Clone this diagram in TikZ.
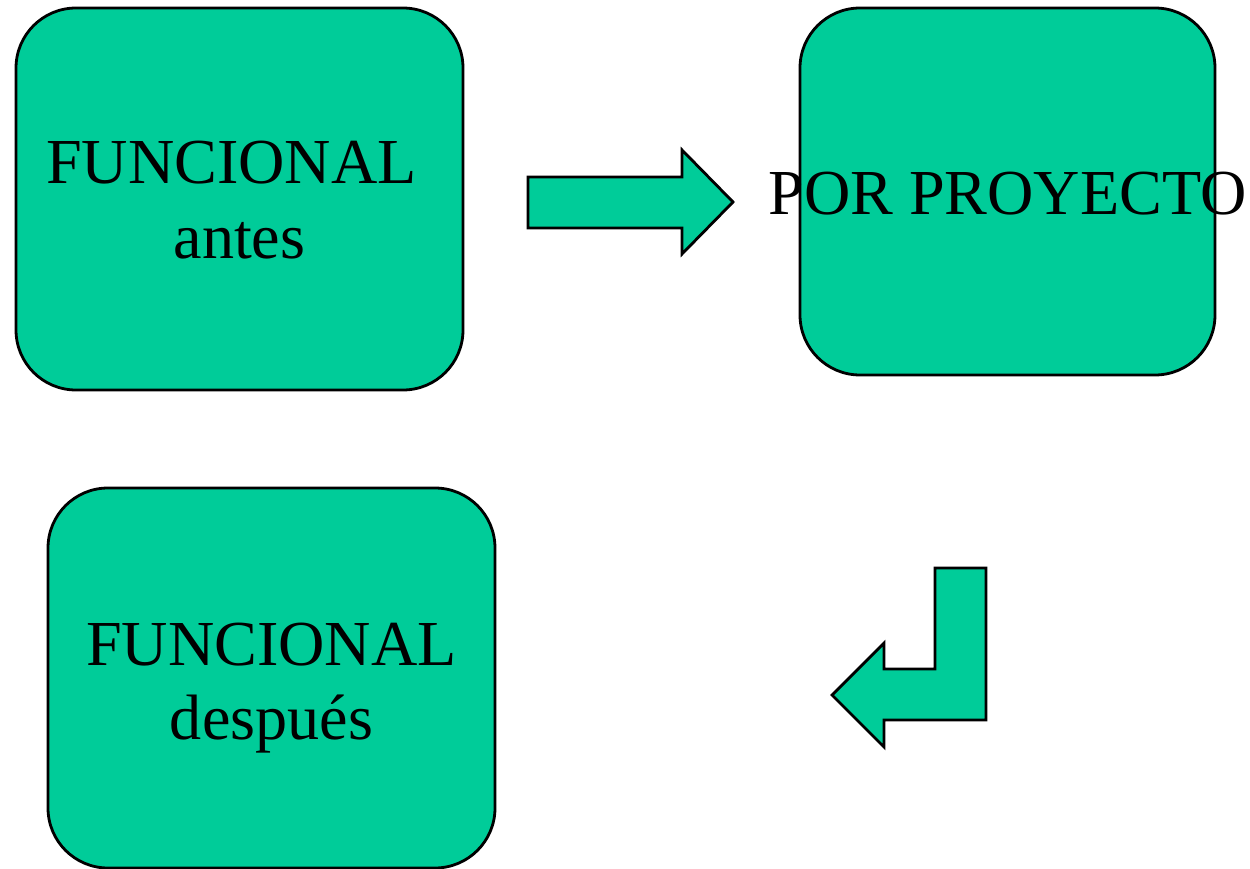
\documentclass[tikz,border=0pt]{standalone}
\usepackage{fontspec}
\setmainfont{Liberation Serif}
\usetikzlibrary{positioning}
\definecolor{verde}{RGB}{0,204,153}
\tikzset{caja/.style={draw, fill=verde, line width=0.8pt, rounded corners=0.6cm, inner sep=0pt},
  texto/.style={align=center, font=\fontsize{18.25}{21.2}\selectfont},
  flecha/.style={draw, fill=verde, line width=0.8pt, line join=miter}}

\begin{document}
\begin{tikzpicture}
      \useasboundingbox (0, 0) rectangle (12.5, -8.69);
      \node[caja, minimum width=4.47cm, minimum height=3.82cm] (antes) at (2.395, -1.99) {};
      \node[caja, minimum width=4.15cm, minimum height=3.67cm] (proy) at (10.075, -1.915) {};
      \node[caja, minimum width=4.47cm, minimum height=3.80cm] (despues) at (2.715, -6.78) {};
      \node[texto, yshift=-0.01cm] (antestxt) at (antes) {FUNCIONAL\hspace*{0.25em}\\antes};
      \node[texto, yshift=-0.02cm] (proytxt) at (proy) {POR PROYECTO};
      \node[texto, yshift=-0.10cm] (despuestxt) at (despues) {FUNCIONAL\\después};
      \draw[flecha] (5.28, -1.77) -- (6.82, -1.77) -- (6.82, -1.50) -- (7.33, -2.02)
        -- (6.82, -2.54) -- (6.82, -2.28) -- (5.28, -2.28) -- cycle;
      \draw[flecha] (9.35, -5.68) -- (9.86, -5.68) -- (9.86, -7.20) -- (8.84, -7.20)
        -- (8.84, -7.47) -- (8.32, -6.95) -- (8.84, -6.43) -- (8.84, -6.69)
        -- (9.35, -6.69) -- cycle;
    \end{tikzpicture}
\end{document}
